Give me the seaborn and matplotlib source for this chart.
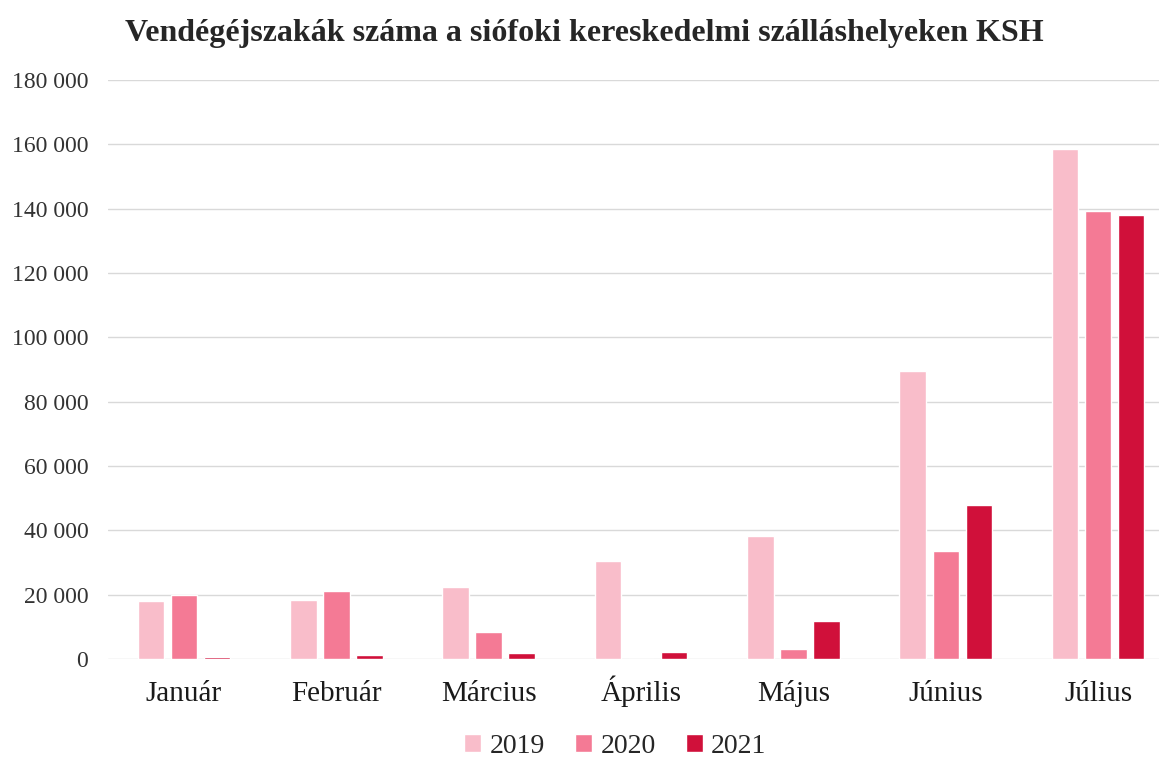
import numpy as np
import pandas as pd
import matplotlib
matplotlib.use("Agg")
import matplotlib.pyplot as plt
import seaborn as sns
from matplotlib.ticker import FuncFormatter

# data
months = ["Január", "Február", "Március", "Április", "Május", "Június", "Július"]
years = ["2019", "2020", "2021"]
v2019 = [18000, 18400, 22400, 30400, 38200, 89500, 158500]
v2020 = [20000, 21200, 8500, 0, 3100, 33600, 139300]
v2021 = [600, 1400, 1800, 2100, 11800, 47900, 138000]
colors = ["#F9BDCA", "#F47A95", "#D0103A"]

df = pd.DataFrame({"month": months * 3,
                   "year": [y for y in years for _ in months],
                   "value": v2019 + v2020 + v2021})

sns.set_theme(style="white")
plt.rcParams["font.family"] = ["Liberation Serif", "DejaVu Serif"]

fig = plt.figure(figsize=(11.59, 7.61), dpi=100)
ax = fig.add_axes([0.093, 0.134, 0.907, 0.761])

sns.barplot(data=df, x="month", y="value", hue="year", palette=colors,
            width=0.65, gap=0.2, saturation=1, ax=ax, legend=True)

ax.set_ylim(0, 180000)
ax.set_xlim(-0.5, 6.4)
ax.set_yticks(np.arange(0, 180001, 20000))
ax.yaxis.set_major_formatter(FuncFormatter(lambda v, p: f"{int(v):,}".replace(",", " ")))
ax.grid(axis="y", color="#D9D9D9", linewidth=1)
ax.set_axisbelow(True)
for s in ["top", "right", "left", "bottom"]:
    ax.spines[s].set_visible(False)
ax.tick_params(axis="y", labelsize=17, colors="#333333", length=0, pad=14)
ax.tick_params(axis="x", labelsize=21, colors="#1a1a1a", length=0, pad=30)
for lbl in ax.get_xticklabels():
    lbl.set_verticalalignment("baseline")
ax.set_xlabel("")
ax.set_ylabel("")

ax.legend(loc="upper center", bbox_to_anchor=(0.483, -0.105), ncol=3, frameon=False,
          fontsize=20, handlelength=0.6, handleheight=0.6, handletextpad=0.3, columnspacing=1.1,
          borderpad=0.0)

fig.suptitle("Vendégéjszakák száma a siófoki kereskedelmi szálláshelyeken KSH",
             x=0.504, y=0.975, fontsize=23, fontweight="bold")

fig.savefig("out.png", dpi=100)
